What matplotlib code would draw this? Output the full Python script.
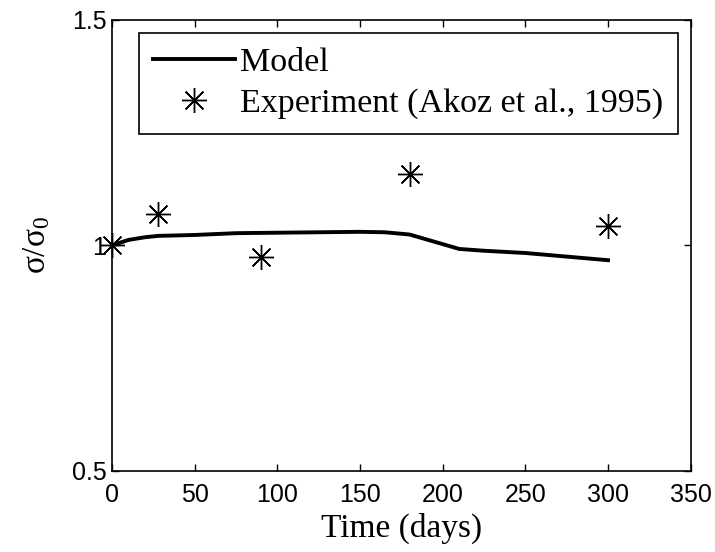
import matplotlib
matplotlib.use("Agg")
import matplotlib.pyplot as plt
import numpy as np

# === DATA ===
model_days = [0, 5, 10, 20, 28, 50, 75, 100, 125, 150, 165, 180, 195, 210, 225, 250, 275, 300]
model_ratio = [1.0, 1.006, 1.012, 1.018, 1.021, 1.023, 1.027, 1.028, 1.029, 1.030, 1.029,
               1.024, 1.008, 0.992, 0.988, 0.983, 0.975, 0.967]

exp_days = [0, 28, 90, 180, 300]
exp_ratio = [1.0, 1.07, 0.975, 1.158, 1.043]

xticks = [0, 50, 100, 150, 200, 250, 300, 350]
yticks = [0.5, 1, 1.5]
ytick_labels = ["0.5", "1", "1.5"]

# === FONTS ===
SERIF = ["Liberation Serif", "DejaVu Serif"]
TICKFONT = ["Liberation Sans Narrow", "Liberation Sans", "DejaVu Sans"]
plt.rcParams["mathtext.fontset"] = "custom"
plt.rcParams["mathtext.rm"] = "Liberation Serif"
plt.rcParams["mathtext.it"] = "Liberation Serif"

fig = plt.figure(figsize=(7.15, 5.52), dpi=100)
ax = fig.add_axes([0.1566, 0.1473, 0.8094, 0.8165])

ax.plot(model_days, model_ratio, color="black", linewidth=2.8, label="Model")
ax.plot(exp_days, exp_ratio, linestyle="none", marker=(8, 2, 0), markersize=18,
        markeredgewidth=1.0, color="black", clip_on=False, zorder=3,
        label="Experiment (Akoz et al., 1995)")
ax.plot(exp_days, exp_ratio, linestyle="none", marker="o", markersize=2.5, color="black",
        clip_on=False, zorder=3)

ax.set_xlim(0, 350)
ax.set_ylim(0.5, 1.5)
ax.set_xticks(xticks)
ax.set_yticks(yticks)
ax.set_yticklabels(ytick_labels)
ax.tick_params(direction="in", length=5, width=1, top=True, right=True)
ax.tick_params(axis="x", pad=9)
ax.tick_params(axis="y", pad=4)
for lab in ax.get_xticklabels() + ax.get_yticklabels():
    lab.set_family(TICKFONT)
    lab.set_fontsize(18)
for sp in ax.spines.values():
    sp.set_linewidth(1.2)

ax.set_xlabel("Time (days)", family=SERIF, fontsize=24, labelpad=4)
ax.set_ylabel(r"$\sigma/\sigma_0$", fontsize=24, labelpad=14)

leg = ax.legend(loc="upper left", bbox_to_anchor=(0.047, 0.971), frameon=True, fancybox=False,
                edgecolor="black", framealpha=1, borderaxespad=0, borderpad=0.42,
                handlelength=2.4, handletextpad=0.15, labelspacing=0.3,
                prop={"family": SERIF, "size": 24.5})
leg.get_frame().set_linewidth(1.2)

fig.savefig("out.png", dpi=100)
